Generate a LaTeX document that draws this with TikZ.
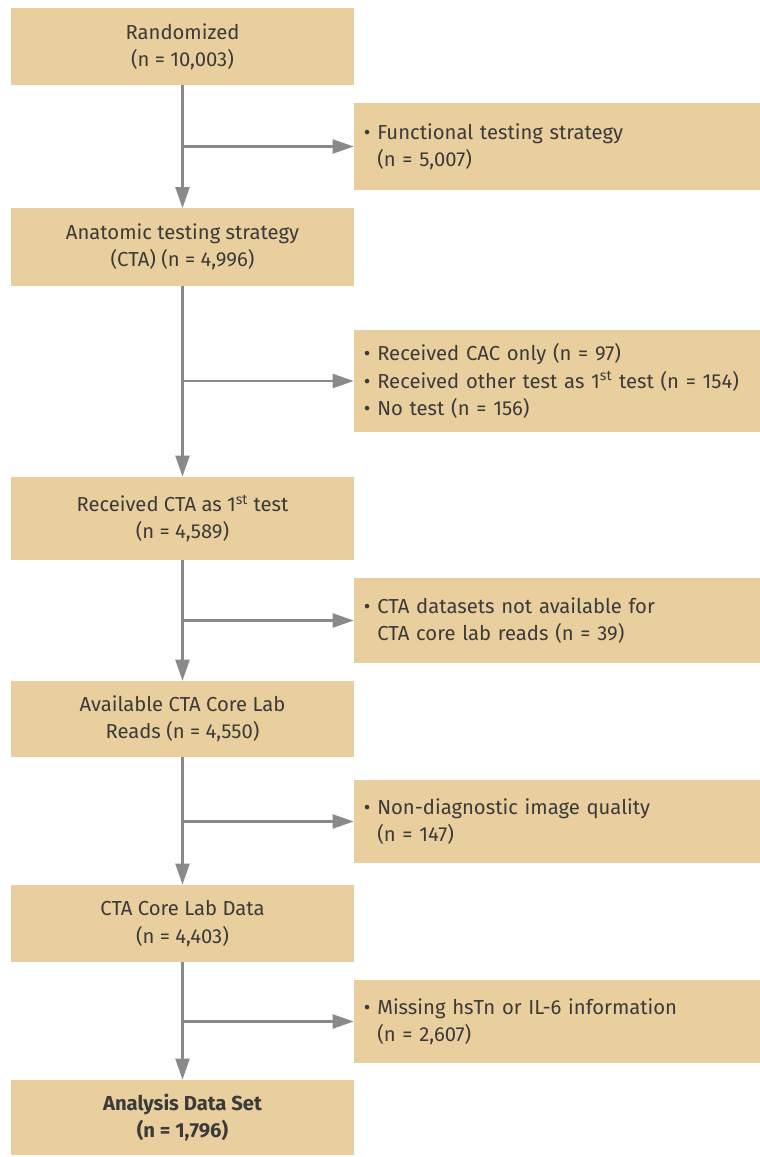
\documentclass[tikz,border=0pt]{standalone}
\usepackage{fontspec}
\setmainfont{Fira Sans}
\usetikzlibrary{arrows.meta}
\definecolor{boxfill}{HTML}{E9CF9D}
\definecolor{linegray}{HTML}{8A8A8A}
\definecolor{textgray}{HTML}{3A3A3A}
\newcommand{\bul}{\textbullet\ }
\newcommand{\ind}{\phantom{\textbullet\ }}
\begin{document}
\begin{tikzpicture}[x=0.025cm, y=-0.025cm,
    font=\fontsize{14.4}{19.5}\selectfont, text=textgray,
    stage/.style ={fill=boxfill, minimum width=8.575cm, minimum height=1.93cm, align=center, inner sep=0pt},
    excluded/.style ={fill=boxfill, minimum width=10.15cm, text width=9.65cm, inner xsep=0.25cm, align=left},
    flow/.style ={draw=linegray, line width=1.6pt, -{Triangle[length=15pt, width=10pt]}}]
   \useasboundingbox (0,0) rectangle (760,1157);

   \node[stage] (rand) at (182.5,46.5) {Randomized\\(n = 10,003)};
   \node[stage] (anat) at (182.5,247) {Anatomic testing strategy\\(CTA) (n = 4,996)};
   \node[stage, minimum height=2.08cm] (recv) at (182.5,518.5) {Received CTA as 1\textsuperscript{st} test\\(n = 4,589)};
   \node[stage, minimum height=1.9cm] (avail) at (182.5,719) {Available CTA Core Lab\\Reads (n = 4,550)};
   \node[stage] (core) at (182.5,923.5) {CTA Core Lab Data\\(n = 4,403)};
   \node[stage, minimum height=1.88cm, font=\fontsize{14.4}{19.5}\selectfont\bfseries] (final) at (182.5,1117.5) {Analysis Data Set\\(n = 1,796)};

   \node[excluded, minimum height=2.18cm] (func) at (557,146.5) {\bul Functional testing strategy\\\ind(n = 5,007)};
   \node[excluded, minimum height=2.55cm] (noct) at (557,381) {\bul Received CAC only (n = 97)\\\bul Received other test as 1\textsuperscript{st} test (n = 154)\\\bul No test (n = 156)};
   \node[excluded, minimum height=2.13cm] (nodata) at (557,620.5) {\bul CTA datasets not available for\\\ind CTA core lab reads (n = 39)};
   \node[excluded, minimum height=2.08cm] (nondiag) at (557,821.5) {\bul Non-diagnostic image quality\\\ind(n = 147)};
   \node[excluded, minimum height=2.08cm] (miss) at (557,1021.5) {\bul Missing hsTn or IL-6 information\\\ind(n = 2,607)};

   \coordinate (b1) at (rand.south |- func.west);
   \coordinate (b2) at (anat.south |- noct.west);
   \coordinate (b3) at (recv.south |- nodata.west);
   \coordinate (b4) at (avail.south |- nondiag.west);
   \coordinate (b5) at (core.south |- miss.west);

   \draw[flow] (rand) to (anat);
   \draw[flow] (anat) to (recv);
   \draw[flow] (recv) to (avail);
   \draw[flow] (avail) to (core);
   \draw[flow] (core) to (final);

   \draw[flow] (b1) to (func);
   \draw[flow] (b2) to (noct);
   \draw[flow] (b3) to (nodata);
   \draw[flow] (b4) to (nondiag);
   \draw[flow] (b5) to (miss);
 \end{tikzpicture}
\end{document}
